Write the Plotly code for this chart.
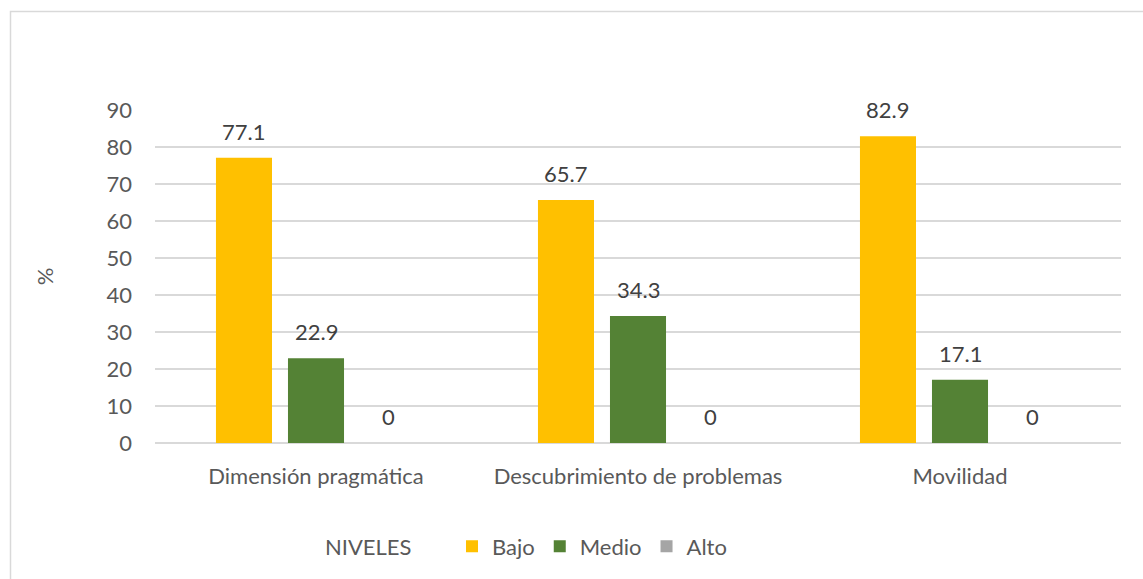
import plotly.graph_objects as go

categories = ["Dimensión pragmática", "Descubrimiento de problemas", "Movilidad"]
series_names = ["Bajo", "Medio", "Alto"]
bajo = [77.1, 65.7, 82.9]
medio = [22.9, 34.3, 17.1]
alto = [0, 0, 0]
colors = ["#FFC000", "#548235", "#A5A5A5"]
y_ticks = [0, 10, 20, 30, 40, 50, 60, 70, 80, 90]
legend_title = "NIVELES"
y_title = "%"

FONT = "Lato"
FS = 22
W, H = 1143, 579
ML, MR, MT, MB = 155, 22, 110, 134
plot_w = W - ML - MR
plot_h = H - MT - MB

fig = go.Figure()
values = [bajo, medio, alto]
for name, vals, col in zip(series_names, values, colors):
    fig.add_trace(go.Bar(x=categories, y=vals, name=name, marker=dict(color=col, line=dict(width=0))))

# data labels
slot = plot_w / len(categories) * (1 - 0.329) / 3
for i, vals in enumerate(values):
    for c, v in zip(categories, vals):
        fig.add_annotation(x=c, y=v, text=f"{v:g}", showarrow=False, xref="x", yref="y",
                           xshift=(i - 1) * slot, yanchor="bottom", yshift=11,
                           font=dict(family=FONT, size=FS, color="#404040"))

# legend title as text
fig.add_annotation(x=(368 - ML) / plot_w, y=(H - MB - 549) / plot_h, xref="paper", yref="paper",
                   text=legend_title, showarrow=False, xanchor="center", yanchor="middle",
                   font=dict(family=FONT, size=FS, color="#595959"))

# chart border
fig.add_shape(type="rect", xref="paper", yref="paper",
              x0=(10.5 - ML) / plot_w, x1=(W + 5 - ML) / plot_w,
              y0=(H - MB - (H + 5)) / plot_h, y1=(H - MB - 11) / plot_h,
              line=dict(color="#D9D9D9", width=1.5), fillcolor="rgba(0,0,0,0)", layer="below")

fig.update_layout(
    width=W, height=H,
    margin=dict(l=ML, r=MR, t=MT, b=MB),
    paper_bgcolor="white", plot_bgcolor="white",
    barmode="group", bargap=0.329, bargroupgap=0.222,
    font=dict(family=FONT, size=FS, color="#595959"),
    showlegend=True,
    legend=dict(orientation="h", x=(452 - ML) / plot_w, xanchor="left",
                y=(H - MB - 549) / plot_h, yanchor="middle",
                font=dict(family=FONT, size=FS, color="#595959"),
                itemwidth=30, traceorder="normal"),
    xaxis=dict(showgrid=False, showline=False, ticks="", ticklabelstandoff=18,
               tickfont=dict(family=FONT, size=FS, color="#595959")),
    yaxis=dict(range=[0, 90], tickvals=y_ticks, showgrid=True, gridcolor="#D9D9D9", gridwidth=1.5,
               zeroline=True, zerolinecolor="#D9D9D9", zerolinewidth=1.5,
               showline=False, ticks="", ticklabelstandoff=22,
               tickfont=dict(family=FONT, size=FS, color="#595959"),
               title=dict(text=y_title, standoff=46, font=dict(family=FONT, size=FS, color="#595959"))),
)

fig.write_html("out.html", config={"displayModeBar": False},
               post_script="document.body.style.margin='0px';document.body.style.overflow='hidden';")
